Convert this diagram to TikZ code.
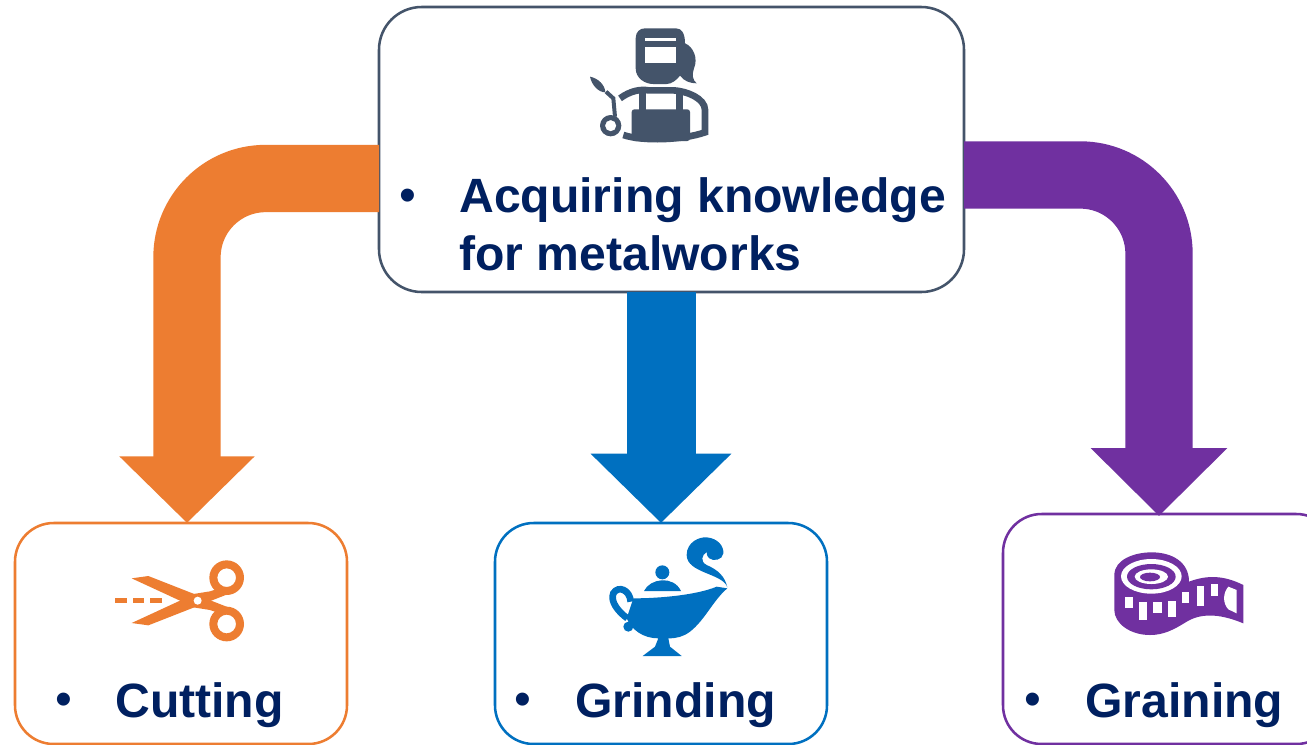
\documentclass[tikz,border=0pt]{standalone}
\usepackage{fontspec}
\usepackage{xcolor}
\usetikzlibrary{arrows.meta}
\setmainfont{Liberation Sans}
\definecolor{navytext}{HTML}{002060}
\definecolor{slateline}{HTML}{44546A}
\definecolor{orangeline}{HTML}{ED7D31}
\definecolor{blueline}{HTML}{0070C0}
\definecolor{purpleline}{HTML}{7030A0}
\tikzset{
	roundbox/.style={draw=#1, line width=1.9pt, rounded corners=29pt, fill=white, outer sep=0pt, inner sep=0pt},
	bigtext/.style={text=navytext, inner sep=0pt, font=\bfseries\fontsize{36.1}{43.5}\selectfont},
	dottext/.style={text=navytext, inner sep=0pt, font=\fontsize{36}{43.5}\selectfont},
	bendarrow/.style n args={3}{draw=#1, line width=50.5pt, rounded corners=59pt, -{Triangle[length=#2,width=#3]}},
	iconscale/.style={x=0.25pt, y=-0.25pt},
}
\begin{document}
\begin{tikzpicture}[x=0.75pt, y=-0.75pt]
	\useasboundingbox (0,0) rectangle (1307,744);
	\clip (0,0) rectangle (1307,744);
	\fill[white] (0,0) rectangle (1307,744);

	\node[roundbox=slateline, rounded corners=32pt, minimum width=438.75pt, minimum height=213.75pt] (metalbox) at (671.5,149.5) {};
	\node[roundbox=orangeline, minimum width=249pt, minimum height=165.75pt] (cutbox) at (181,633.5) {};
	\node[roundbox=blueline, minimum width=249pt, minimum height=165.75pt] (grindbox) at (661,633.5) {};
	\node[roundbox=purpleline, minimum width=249pt, minimum height=172.5pt] (grainbox) at (1169,629) {};

	\draw[bendarrow={orangeline}{50pt}{98.5pt}] ([yshift=-21.75pt]metalbox.west) -| ([xshift=4.5pt]cutbox.north);
	\draw[bendarrow={blueline}{52pt}{102.5pt}, line width=51.75pt, xshift=-0.75pt] (metalbox.south -| grindbox.north) -- (grindbox.north);
	\draw[bendarrow={purpleline}{51pt}{99.5pt}] ([yshift=-19.1pt]metalbox.east) -| ([xshift=-7.5pt, yshift=-1.5pt]grainbox.north);

	\node[dottext, anchor=base west] (metalbullet) at (399,211) {•};
	\node[bigtext, anchor=north west, align=left] (metaltext) at (459,177) {Acquiring knowledge\\for metalworks};
	\node[dottext, anchor=base west] (cutbullet) at (55,715) {•};
	\node[bigtext, anchor=base west] (cuttext) at (115,717) {Cutting};
	\node[dottext, anchor=base west] (grindbullet) at (514,715) {•};
	\node[bigtext, anchor=base west] (grindtext) at (575,717) {Grinding};
	\node[dottext, anchor=base west] (grainbullet) at (1024,715) {•};
	\node[bigtext, anchor=base west] (graintext) at (1085,717) {Graining};

	\begin{scope}[shift={(570,15)}, iconscale, slateline]
		\fill (197,70) .. controls (197,50) and (210,40) .. (225,40) -- (318,40) .. controls (335,40) and (345,55) .. (345,85)
			.. controls (370,95) and (385,130) .. (372,160) .. controls (365,180) and (368,195) .. (380,205)
			.. controls (360,205) and (342,198) .. (330,182) .. controls (320,195) and (305,207) .. (290,207)
			-- (250,207) .. controls (225,207) and (197,190) .. (197,160) -- cycle;
		\fill[white] (225,97) rectangle (318,145);
		\fill[white] (225,70) rectangle (318,78);
		\draw[line width=5pt] (150,250) .. controls (180,228) and (210,222) .. (235,226) -- (310,226)
			.. controls (350,228) and (405,250) .. (405,285) -- (405,352) .. controls (340,375) and (220,380) .. (160,360);
		\fill (206,232) rectangle (228,290);
		\fill (318,232) rectangle (340,290);
		\fill[rounded corners=2pt] (185,283) rectangle (360,378);
		\fill[white] (228,237) rectangle (318,282);
		\fill (60,185) .. controls (85,190) and (105,210) .. (106,232) .. controls (85,232) and (65,210) .. (60,185) -- cycle;
		\draw[line width=3pt] (108,230) -- (130,250) -- (135,305);
		\fill[even odd rule] (122,332) circle[radius=8pt] (122,332) circle[radius=4.25pt];
	\end{scope}

	\begin{scope}[shift={(100,550)}, iconscale, orangeline]
		\fill (45,143) rectangle (80,160);
		\fill (100,143) rectangle (133,160);
		\fill (150,143) rectangle (186,160);
		\fill (95,85) -- (145,78) -- (400,178) -- (360,190) -- (330,180) -- (280,172) -- (240,152) -- cycle;
		\fill (95,219) -- (145,226) -- (400,126) -- (360,114) -- (330,124) -- (280,132) -- (240,152) -- cycle;
		\fill[even odd rule] (380,83) circle[radius=13pt] (380,83) circle[radius=7pt];
		\fill[even odd rule] (380,222) circle[radius=13pt] (380,222) circle[radius=7pt];
		\fill[white] (293,152) circle[radius=3pt];
	\end{scope}

	\begin{scope}[shift={(590,530)}, iconscale, blueline]
		\fill (130,205) .. controls (210,205) and (320,195) .. (380,170) -- (412,175)
			.. controls (370,210) and (345,270) .. (300,305) .. controls (280,320) and (260,325) .. (235,325)
			-- (240,350) -- (275,378) -- (158,378) -- (195,350) -- (205,325)
			.. controls (160,325) and (125,300) .. (110,265) -- cycle;
		\draw[line width=5pt] (122,215) .. controls (120,180) and (85,165) .. (70,190) .. controls (60,215) and (85,245) .. (112,265);
		\fill (115,290) circle[radius=3.75pt];
		\fill (162,183) .. controls (180,145) and (250,135) .. (273,183) -- cycle;
		\fill (217,127) circle[radius=5.25pt];
		\fill (412,172) .. controls (400,130) and (290,130) .. (290,75) .. controls (290,35) and (330,20) .. (350,22)
			.. controls (385,25) and (402,50) .. (400,70) .. controls (398,90) and (370,95) .. (358,85)
			.. controls (350,78) and (350,70) .. (350,66) .. controls (335,75) and (330,95) .. (350,105)
			.. controls (385,120) and (405,140) .. (412,172) -- cycle;
	\end{scope}

	\begin{scope}[shift={(1100,540)}, iconscale, purpleline]
		\fill (43,105) .. controls (43,60) and (100,37) .. (155,37) .. controls (215,37) and (267,65) .. (267,125)
			.. controls (320,105) and (370,105) .. (430,135) -- (430,250) .. controls (370,225) and (310,215) .. (260,245)
			.. controls (220,270) and (190,285) .. (150,285) .. controls (90,285) and (43,250) .. (43,210) -- cycle;
		\fill[white] (154,109) ellipse[x radius=22.75pt, y radius=13pt];
		\fill (154,110) ellipse[x radius=18.25pt, y radius=9.5pt];
		\fill[white] (154,110) ellipse[x radius=12.5pt, y radius=5.5pt];
		\fill (150,111) ellipse[x radius=7.5pt, y radius=3.25pt];
		\fill[white] (75,170) rectangle (98,205);
		\fill[white] (118,185) rectangle (140,240);
		\fill[white] (160,187) rectangle (185,218);
		\fill[white] (205,183) rectangle (228,232);
		\fill[white] (247,155) rectangle (268,188);
		\fill[white] (290,138) rectangle (312,197);
		\fill[white] (332,132) rectangle (355,167);
		\fill[white] (385,140) .. controls (368,160) and (368,190) .. (385,208) -- (410,220) -- (410,150) -- cycle;
	\end{scope}
\end{tikzpicture}
\end{document}
